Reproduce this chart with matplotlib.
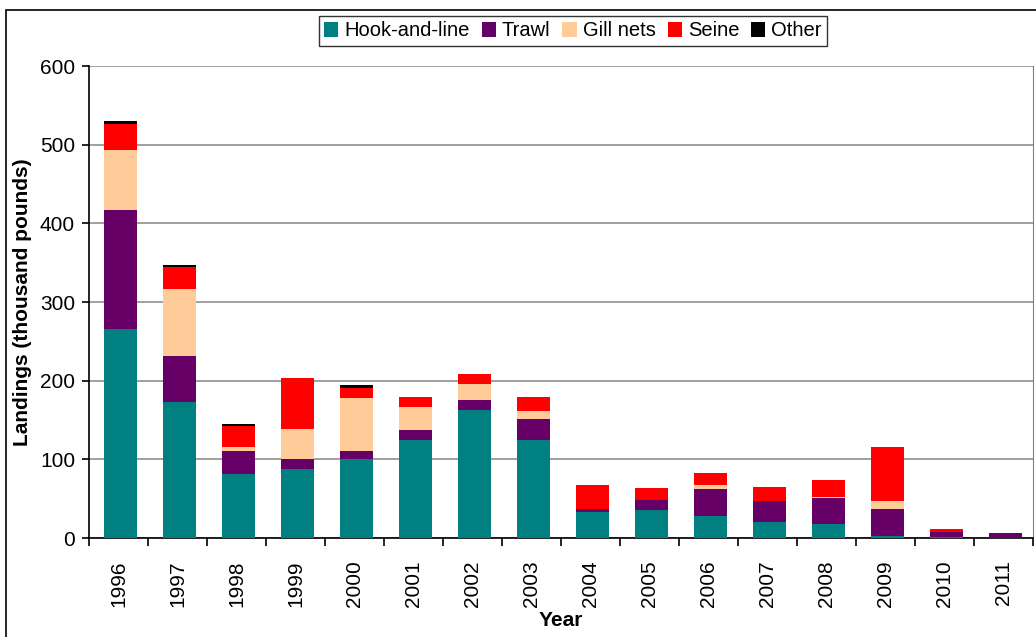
import numpy as np
import matplotlib
matplotlib.use('Agg')
from matplotlib import pyplot as plt
from matplotlib.patches import Patch, Rectangle

years = ['1996', '1997', '1998', '1999', '2000', '2001', '2002', '2003',
         '2004', '2005', '2006', '2007', '2008', '2009', '2010', '2011']
hook = [266, 173, 81, 88, 100, 124, 163, 124, 33, 36, 28, 20, 18, 3, 1, 0]
trawl = [151, 58, 30, 13, 10, 13, 13, 27, 4, 12, 34, 27, 33, 34, 6, 6]
gill = [76, 86, 5, 38, 68, 29, 20, 10, 0, 0, 5, 0, 1, 10, 0, 0]
seine = [33, 27, 26, 65, 13, 13, 13, 18, 30, 16, 15, 18, 22, 69, 5, 0]
other = [4, 3, 3, 0, 3, 0, 0, 0, 0, 0, 0, 0, 0, 0, 0, 0]

series = [('Hook-and-line', hook, '#008080'),
          ('Trawl', trawl, '#660066'),
          ('Gill nets', gill, '#FFCC99'),
          ('Seine', seine, '#FF0000'),
          ('Other', other, '#000000')]

plt.rcParams['font.family'] = ['Liberation Sans', 'DejaVu Sans']

fig = plt.figure(figsize=(10.36, 6.37), dpi=100)
ax = fig.add_axes([89/1036, 99/637, 944/1036, 472/637])

x = np.arange(len(years))
bottom = np.zeros(len(years))
handles = []
for name, vals, col in series:
    ax.bar(x + 0.03, vals, width=0.56, bottom=bottom, color=col, zorder=3)
    bottom += np.array(vals)
    handles.append(Patch(facecolor=col, label=name))

ax.set_xlim(-0.5, len(years) - 0.5)
ax.set_ylim(0, 600)
ax.set_yticks(range(0, 601, 100))
ax.tick_params(axis='y', labelsize=15, length=5, width=1.2, direction='out', pad=5)
ax.set_xticks(x)
ax.set_xticklabels(years, rotation=90, fontsize=15)
ax.set_xticks(np.arange(-0.5, len(years), 1), minor=True)
ax.tick_params(axis='x', which='major', length=0, pad=16)
ax.tick_params(axis='x', which='minor', length=6, width=1.2, direction='out')
ax.grid(axis='y', color='#a0a0a0', linewidth=1.4, zorder=0)
ax.spines['top'].set_visible(False)
ax.spines['right'].set_color('#808080')
ax.spines['left'].set_linewidth(1.2)
ax.spines['bottom'].set_linewidth(1.2)

ax.set_xlabel('Year', fontsize=15, fontweight='bold', labelpad=3)
ax.set_ylabel('Landings (thousand pounds)', fontsize=15, fontweight='bold', labelpad=6)

leg = fig.legend(handles=handles, loc='center', bbox_to_anchor=(573/1036, 1 - 31/637),
                 ncol=5, fontsize=14.5, frameon=True, fancybox=False,
                 handlelength=0.7, handleheight=0.7, handletextpad=0.3,
                 columnspacing=0.6, borderpad=0.25)
leg.get_frame().set_edgecolor('black')
leg.get_frame().set_linewidth(1.0)

fig.patches.append(Rectangle((6/1036, -0.1), 1.1, 1 - 10/637 + 0.1,
                             transform=fig.transFigure, fill=False,
                             edgecolor='black', linewidth=1.2))

fig.savefig('out.png', dpi=100)
